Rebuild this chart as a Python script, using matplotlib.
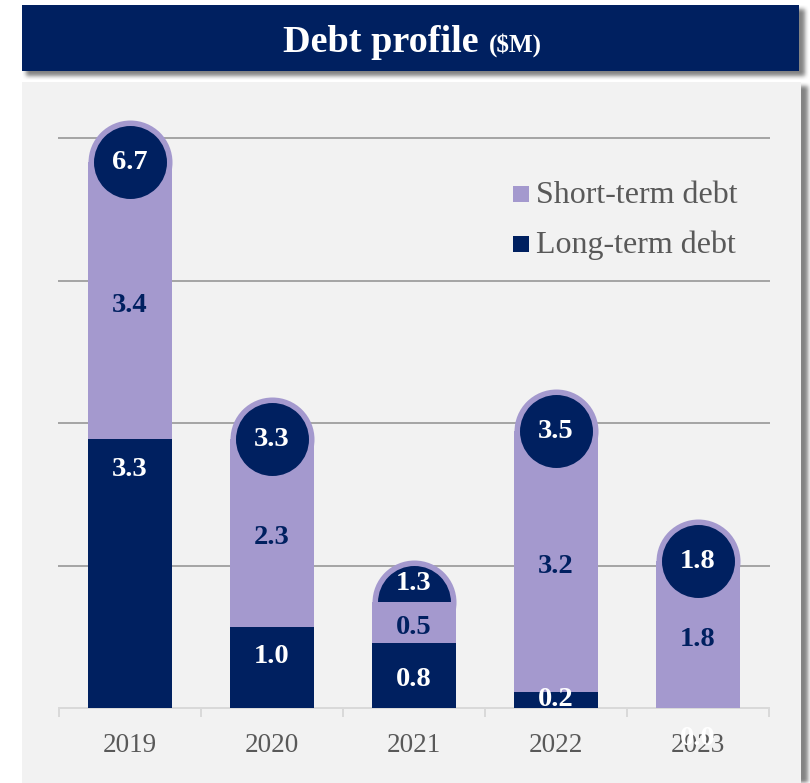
import numpy as np
import matplotlib
matplotlib.use("Agg")
import matplotlib.pyplot as plt
from matplotlib.patches import Rectangle

# ---- data ($M) ----
years = ["2019", "2020", "2021", "2022", "2023"]
long_term = [3.3, 1.0, 0.8, 0.2, 0.0]
short_term = [3.4, 2.3, 0.5, 3.2, 1.8]
total_labels = ["6.7", "3.3", "1.3", "3.5", "1.8"]

# ---- style ----
NAVY = "#002060"
LAVENDER = "#A499CE"
PANEL = "#F2F2F2"
GRID = "#A6A6A6"
AXIS = "#D9D9D9"
TEXT_GRAY = "#595959"
SERIF = ["Liberation Serif", "DejaVu Serif"]
LABEL_SIZE = 20.5

W, H, DPI = 810, 783, 100
fig = plt.figure(figsize=(W / DPI, H / DPI), dpi=DPI)
fig.patch.set_facecolor("white")


def fig_rect(x0, y0, x1, y1, **kw):
    """Rectangle given in pixel coords measured from the top-left corner."""
    r = Rectangle((x0 / W, 1 - y1 / H), (x1 - x0) / W, (y1 - y0) / H,
                  transform=fig.transFigure, **kw)
    fig.add_artist(r)
    return r


# ---- soft drop shadows behind the banner and the panel ----
mask = np.zeros((H, W))
mask[9:76, 26:805] = 1.0
mask[86:H, 27:808] = 1.0


def box_blur(a, r):
    k = np.ones(2 * r + 1) / (2 * r + 1)
    a = np.apply_along_axis(lambda v: np.convolve(v, k, mode="same"), 0, a)
    a = np.apply_along_axis(lambda v: np.convolve(v, k, mode="same"), 1, a)
    return a


mask = box_blur(box_blur(mask, 2), 2)
shadow = np.zeros((H, W, 4))
shadow[..., :3] = 0.35
shadow[..., 3] = mask * 0.75
fig.figimage(shadow, xo=0, yo=0, origin="upper", zorder=0.1)

# banner and panel
fig_rect(22, 5, 799, 71, facecolor=NAVY, edgecolor="none", zorder=0.3)
fig_rect(22, 82, 801, H + 5, facecolor=PANEL, edgecolor="none", zorder=0.3)

# title
fig.text(479 / W, 1 - 52 / H, "Debt profile", ha="right", va="baseline",
         color="white", fontsize=27.5, fontweight="bold", family=SERIF, zorder=5)
fig.text(489 / W, 1 - 52 / H, "($M)", ha="left", va="baseline",
         color="white", fontsize=18, fontweight="bold", family=SERIF, zorder=5)

# ---- chart ----
ax = fig.add_axes([59 / W, 75 / H, 710 / W, 570 / H])
ax.set_facecolor("none")
ax.set_zorder(1)

x = np.arange(len(years))
bar_w = 0.59

ax.set_xlim(-0.5, len(years) - 0.5)
ax.set_ylim(0, 7)

for v in [1.75, 3.5, 5.25, 7.0]:
    ax.axhline(v, color=GRID, lw=1.44, zorder=1, clip_on=False)

ax.bar(x, long_term, width=bar_w, color=NAVY, zorder=2, linewidth=0)
ax.bar(x, short_term, bottom=long_term, width=bar_w, color=LAVENDER,
       zorder=2, linewidth=0)

totals = [a + b for a, b in zip(long_term, short_term)]

# rounded caps with the total in a navy disc
cap_behind = [False, False, True, False, False]
ring_s = (84 * 72 / DPI) ** 2
dot_s = (73 * 72 / DPI) ** 2
for i, t in enumerate(totals):
    z = 1.5 if cap_behind[i] else 3.0
    ax.scatter(x[i], t, s=ring_s, color=LAVENDER, linewidths=0,
               zorder=z, clip_on=False)
    ax.scatter(x[i], t, s=dot_s, color=NAVY, linewidths=0,
               zorder=z + 0.1, clip_on=False)
    ty = t + 0.23 if cap_behind[i] else t
    ax.text(x[i], ty, total_labels[i], ha="center", va="center",
            color="white", fontsize=LABEL_SIZE, fontweight="bold",
            family=SERIF, zorder=4, clip_on=False)

# segment labels
for i in range(len(years)):
    lt, st = long_term[i], short_term[i]
    if lt >= 0.9:
        ly, clip, z = lt - 0.37, False, 4
    elif lt >= 0.5:
        ly, clip, z = lt / 2 - 0.05, False, 4
    elif lt > 0:
        ly, clip, z = 0.11, True, 4
    else:
        ly, clip, z = -0.37, False, 5
    ax.text(x[i], ly, f"{lt:.1f}", ha="center", va="center",
            color="white", fontsize=LABEL_SIZE, fontweight="bold",
            family=SERIF, zorder=z, clip_on=clip)
    ax.text(x[i], lt + st / 2 - 0.06, f"{st:.1f}", ha="center", va="center",
            color=NAVY, fontsize=LABEL_SIZE, fontweight="bold", family=SERIF,
            zorder=4)

# axes decoration
for s in ["top", "left", "right"]:
    ax.spines[s].set_visible(False)
ax.spines["bottom"].set_color(AXIS)
ax.spines["bottom"].set_linewidth(1.44)
ax.spines["bottom"].set_zorder(1.2)
ax.set_yticks([])
ax.set_xticks(x)
ax.set_xticklabels(years, family=SERIF)
ax.set_xticks(np.arange(-0.5, len(years)), minor=True)
ax.tick_params(axis="x", which="major", length=0, pad=18, labelsize=19.5,
               labelcolor=TEXT_GRAY)
ax.tick_params(axis="x", which="minor", length=6.5, width=1.44, color=AXIS,
               direction="out")

# legend
fig_rect(513, 186, 529, 202, facecolor=LAVENDER, edgecolor="none", zorder=5)
fig_rect(513, 236, 529, 252, facecolor=NAVY, edgecolor="none", zorder=5)
fig.text(536 / W, 1 - 203 / H, "Short-term debt", ha="left", va="baseline",
         color=TEXT_GRAY, fontsize=23, family=SERIF, zorder=5)
fig.text(536 / W, 1 - 253 / H, "Long-term debt", ha="left", va="baseline",
         color=TEXT_GRAY, fontsize=23, family=SERIF, zorder=5)

fig.savefig("out.png", dpi=DPI)
